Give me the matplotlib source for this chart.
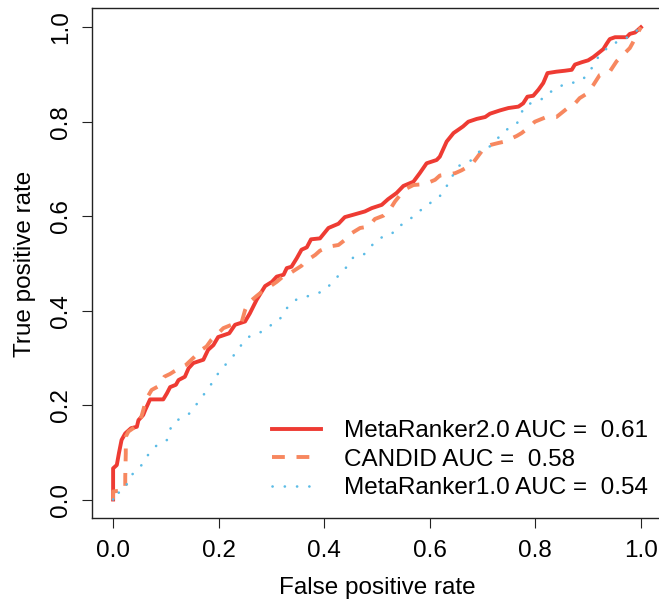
import matplotlib
matplotlib.use("Agg")
import matplotlib.pyplot as plt

plt.rcParams['font.family'] = ['Liberation Sans', 'DejaVu Sans']

# ROC curves (false positive rate, true positive rate)
mr2_fpr = [0.0, 0.0, 0.007, 0.011, 0.016, 0.023, 0.034, 0.045, 0.048, 0.057, 0.061, 0.070, 0.095,
           0.102, 0.108, 0.119, 0.124, 0.136, 0.143, 0.152, 0.171, 0.180, 0.190, 0.199, 0.220, 0.231,
           0.250, 0.259, 0.272, 0.288, 0.301, 0.310, 0.323, 0.329, 0.338, 0.348, 0.357, 0.367, 0.375,
           0.392, 0.408, 0.427, 0.439, 0.455, 0.477, 0.490, 0.509, 0.521, 0.537, 0.550, 0.569, 0.581,
           0.594, 0.613, 0.619, 0.632, 0.645, 0.663, 0.673, 0.689, 0.705, 0.714, 0.733, 0.749, 0.768,
           0.777, 0.785, 0.796, 0.806, 0.815, 0.823, 0.840, 0.856, 0.869, 0.875, 0.888, 0.900, 0.910,
           0.919, 0.929, 0.935, 0.941, 0.951, 0.973, 0.979, 0.989, 1.0]
mr2_tpr = [0.0, 0.066, 0.073, 0.098, 0.126, 0.140, 0.151, 0.154, 0.168, 0.179, 0.190, 0.212, 0.212,
           0.225, 0.238, 0.243, 0.253, 0.260, 0.278, 0.289, 0.296, 0.317, 0.327, 0.344, 0.352, 0.370,
           0.377, 0.394, 0.423, 0.452, 0.461, 0.472, 0.476, 0.490, 0.493, 0.511, 0.529, 0.534, 0.551,
           0.553, 0.575, 0.584, 0.598, 0.603, 0.610, 0.617, 0.624, 0.636, 0.649, 0.664, 0.673, 0.691,
           0.712, 0.719, 0.726, 0.758, 0.776, 0.790, 0.800, 0.806, 0.810, 0.817, 0.824, 0.829, 0.832,
           0.839, 0.853, 0.855, 0.868, 0.882, 0.903, 0.906, 0.908, 0.910, 0.921, 0.926, 0.930, 0.937,
           0.945, 0.954, 0.965, 0.975, 0.979, 0.979, 0.986, 0.989, 1.0]

candid_fpr = [0.0, 0.0, 0.023, 0.023, 0.024, 0.024, 0.029, 0.042, 0.051, 0.059, 0.062, 0.073, 0.086,
              0.097, 0.108, 0.125, 0.138, 0.155, 0.162, 0.177, 0.186, 0.199, 0.209, 0.231, 0.244, 0.250,
              0.256, 0.272, 0.282, 0.297, 0.310, 0.326, 0.335, 0.357, 0.364, 0.383, 0.392, 0.411, 0.427,
              0.443, 0.449, 0.468, 0.484, 0.496, 0.512, 0.525, 0.534, 0.544, 0.553, 0.569, 0.591, 0.610,
              0.619, 0.648, 0.660, 0.679, 0.686, 0.698, 0.705, 0.730, 0.742, 0.765, 0.774, 0.790, 0.799,
              0.821, 0.840, 0.859, 0.869, 0.884, 0.897, 0.910, 0.922, 0.941, 0.954, 0.963, 0.979, 0.984,
              0.992, 1.0]
candid_tpr = [0.0, 0.017, 0.020, 0.048, 0.098, 0.133, 0.144, 0.154, 0.165, 0.197, 0.211, 0.232, 0.240,
              0.260, 0.266, 0.278, 0.285, 0.303, 0.313, 0.324, 0.338, 0.352, 0.363, 0.373, 0.377, 0.401,
              0.416, 0.431, 0.440, 0.451, 0.461, 0.476, 0.479, 0.495, 0.504, 0.518, 0.527, 0.536, 0.539,
              0.553, 0.562, 0.575, 0.578, 0.594, 0.601, 0.615, 0.631, 0.645, 0.657, 0.666, 0.668, 0.677,
              0.686, 0.691, 0.697, 0.709, 0.719, 0.737, 0.748, 0.755, 0.758, 0.770, 0.776, 0.790, 0.800,
              0.810, 0.810, 0.827, 0.831, 0.850, 0.859, 0.878, 0.899, 0.906, 0.928, 0.938, 0.956, 0.966,
              0.984, 1.0]

mr1_fpr = [0.0, 0.0, 0.010, 0.024, 0.029, 0.054, 0.070, 0.083, 0.102, 0.111, 0.127, 0.146, 0.155,
           0.171, 0.187, 0.203, 0.222, 0.234, 0.244, 0.256, 0.275, 0.288, 0.301, 0.315, 0.323, 0.334,
           0.348, 0.367, 0.383, 0.400, 0.412, 0.424, 0.433, 0.446, 0.455, 0.474, 0.486, 0.495, 0.509,
           0.528, 0.537, 0.553, 0.567, 0.578, 0.594, 0.605, 0.619, 0.627, 0.640, 0.645, 0.656, 0.673,
           0.686, 0.696, 0.713, 0.725, 0.736, 0.749, 0.765, 0.772, 0.778, 0.795, 0.812, 0.823, 0.840,
           0.854, 0.873, 0.891, 0.899, 0.911, 0.919, 0.930, 0.946, 0.957, 0.976, 0.989, 1.0]
mr1_tpr = [0.0, 0.014, 0.014, 0.024, 0.045, 0.073, 0.101, 0.115, 0.126, 0.158, 0.172, 0.183, 0.197,
           0.221, 0.246, 0.274, 0.296, 0.313, 0.329, 0.344, 0.352, 0.359, 0.371, 0.380, 0.396, 0.412,
           0.424, 0.430, 0.435, 0.442, 0.456, 0.470, 0.484, 0.495, 0.513, 0.518, 0.530, 0.546, 0.555,
           0.562, 0.577, 0.585, 0.598, 0.610, 0.619, 0.633, 0.642, 0.659, 0.672, 0.692, 0.707, 0.714,
           0.725, 0.740, 0.747, 0.760, 0.774, 0.786, 0.796, 0.812, 0.832, 0.841, 0.848, 0.861, 0.868,
           0.880, 0.883, 0.890, 0.905, 0.918, 0.937, 0.952, 0.959, 0.973, 0.979, 0.990, 1.0]

labels = ['MetaRanker2.0 AUC =  0.61', 'CANDID AUC =  0.58', 'MetaRanker1.0 AUC =  0.54']
colors = ['#EE3B33', '#F7875F', '#5BBCE6']
ticks = [0.0, 0.2, 0.4, 0.6, 0.8, 1.0]
tick_labels = ['0.0', '0.2', '0.4', '0.6', '0.8', '1.0']

fs = 17.5

fig = plt.figure(figsize=(6.59, 6.0), dpi=100)
ax = fig.add_axes([92 / 659, 81.6 / 600, 570 / 659, 510 / 600])

ax.plot(mr2_fpr, mr2_tpr, color=colors[0], lw=2.8, solid_joinstyle='round', label=labels[0])
ax.plot(candid_fpr, candid_tpr, color=colors[1], lw=2.8, linestyle=(0, (3.3, 3.0)), label=labels[1])
ax.plot(mr1_fpr, mr1_tpr, color=colors[2], lw=1.9, linestyle=(0, (0.05, 4.6)),
        dash_capstyle='round', label=labels[2])

ax.set_xlim(-0.04, 1.04)
ax.set_ylim(-0.04, 1.04)
ax.set_xticks(ticks)
ax.set_xticklabels(tick_labels)
ax.set_yticks(ticks)
ax.set_yticklabels(tick_labels, rotation=90, va='center')
ax.tick_params(axis='both', direction='out', length=7.5, width=0.8, labelsize=fs, color='#222222')
ax.tick_params(axis='x', pad=8)
ax.tick_params(axis='y', pad=7)
for s in ax.spines.values():
    s.set_linewidth(1.0)
    s.set_color('#222222')

ax.set_xlabel('False positive rate', fontsize=fs, labelpad=11)
ax.set_ylabel('True positive rate', fontsize=fs, labelpad=10)

ax.legend(loc='upper left', bbox_to_anchor=(272 / 659, 1 - 420 / 600), bbox_transform=fig.transFigure,
          frameon=False, fontsize=fs, handlelength=2.0, handletextpad=0.95, labelspacing=0.27,
          borderpad=0, borderaxespad=0)

fig.savefig('out.png', dpi=100)
